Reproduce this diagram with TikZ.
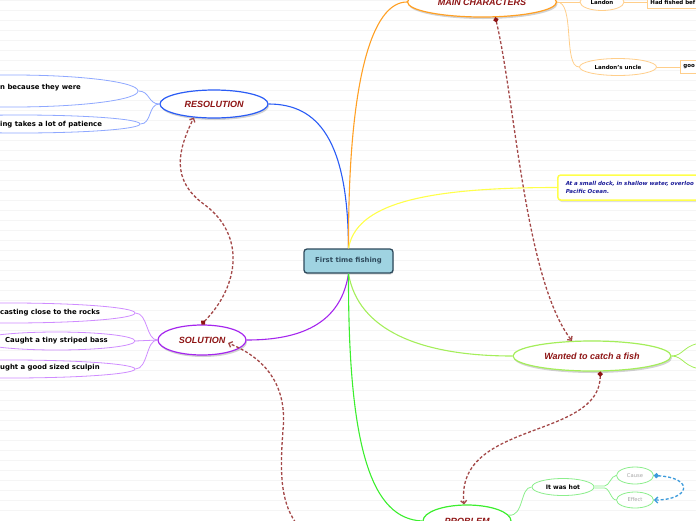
\documentclass[tikz,border=0pt]{standalone}
\usepackage{fontspec}
\setmainfont{DejaVu Sans}[ItalicFont={DejaVu Sans Oblique}, BoldItalicFont={DejaVu Sans Bold Oblique}]
\newfontfamily\headfont{Liberation Sans}
\usepackage{tikz}
\usetikzlibrary{shapes.geometric, arrows.meta, shadows}
\definecolor{hubfill}{HTML}{9FD3E1}
\definecolor{hubedge}{HTML}{2E4A5C}
\definecolor{topicred}{HTML}{8E1414}
\definecolor{relred}{HTML}{A34848}
\definecolor{resblue}{HTML}{2A5CF5}
\definecolor{reslight}{HTML}{8FA8FF}
\definecolor{charorange}{HTML}{FFA024}
\definecolor{charlight}{HTML}{FFCE8A}
\definecolor{dockyellow}{HTML}{FFFF4A}
\definecolor{docktext}{HTML}{1C1C99}
\definecolor{wantgreen}{HTML}{A4EE5A}
\definecolor{solpurple}{HTML}{A526EE}
\definecolor{sollight}{HTML}{CF8CFF}
\definecolor{probgreen}{HTML}{3CEE2E}
\definecolor{problight}{HTML}{8CEE8C}
\definecolor{relblue}{HTML}{3D9BDB}
\tikzset{
  ruleline/.style={draw=black!4, line width=0.8},
  hubbox/.style={rectangle, rounded corners=3, draw=hubedge, fill=hubfill, line width=1.3, minimum width=89, minimum height=24, text=hubedge, font=\bfseries\fontsize{6.9}{8}\selectfont, drop shadow={shadow xshift=0.5pt, shadow yshift=-1.5pt, opacity=0.3}},
  topic/.style={ellipse, draw=#1, fill=white, line width=1.2, inner sep=0pt, text=topicred, font=\headfont\bfseries\itshape\fontsize{9}{11}\selectfont, drop shadow={shadow xshift=1pt, shadow yshift=-2pt, opacity=0.35}},
  dockbox/.style={rectangle, rounded corners=3, draw=dockyellow, fill=white, line width=1.5, anchor=west, minimum height=25, text width=160, align=left, inner xsep=8, text=docktext, font=\bfseries\itshape\fontsize{5.5}{8}\selectfont, drop shadow={shadow xshift=1pt, shadow yshift=-2pt, opacity=0.25}},
  leaf/.style={ellipse, draw=#1, fill=white, line width=0.8, inner sep=0pt, font=\bfseries\fontsize{6.9}{8}\selectfont},
  leafbox/.style={rectangle, draw=#1, fill=white, line width=0.8, inner sep=3pt, anchor=west, align=left, minimum height=13, font=\bfseries\fontsize{5.5}{7}\selectfont},
  cuttext/.style={anchor=west, inner sep=0pt, font=\bfseries\fontsize{6.9}{8}\selectfont},
  branch/.style={draw=#1, line width=1.1},
  twig/.style={draw=#1, line width=0.8},
  relation/.style={draw=relred, line width=1.3, dash pattern=on 3pt off 2pt, {Circle[length=5pt, fill=topicred, color=topicred]}-{Straight Barb[length=3pt, width=6pt]}},
  bluerelation/.style={relation, draw=relblue, {Circle[length=5pt, fill=relblue, color=relblue]}-{Straight Barb[length=3pt, width=6pt]}},
}
\begin{document}
\begin{tikzpicture}[x=1pt, y=-1pt]
\useasboundingbox (0,0) rectangle (696,520);
\clip (0,0) rectangle (696,520);
% lined paper
\foreach \ry in {0.7,10.7,...,520} \draw[ruleline] (0,\ry) -- (696,\ry);

% central topic and main topics
\node[hubbox] (hub) at (348.5,261) {First time fishing};
\node[topic=resblue, minimum width=108, minimum height=28] (resolution) at (214,104) {RESOLUTION};
\node[topic=charorange, minimum width=149, minimum height=30] (mainchar) at (482,2) {MAIN CHARACTERS};
\node[dockbox] (dock) at (557,187.5) {At a small dock, in shallow water, overloo\\Pacific Ocean.};
\node[topic=wantgreen, minimum width=158, minimum height=30] (wanted) at (592,356) {Wanted to catch a fish};
\node[topic=solpurple, minimum width=88, minimum height=30] (solution) at (202,340) {SOLUTION};
\node[topic=probgreen, minimum width=88, minimum height=32] (problem) at (467,521) {PROBLEM};

% resolution leaves
\node[leaf=reslight, minimum width=250, minimum height=32] (res1) at (13,91) {};
\node[cuttext] (res1txt) at (0,88) {n because they were};
\node[leaf=reslight, minimum width=240, minimum height=18] (res2) at (20,124) {};
\node[cuttext] (res2txt) at (0,125) {ing takes a lot of patience};

% solution leaves
\node[leaf=sollight, minimum width=250, minimum height=20] (sol1) at (10,313) {};
\node[cuttext] (sol1txt) at (0,313) {casting close to the rocks};
\node[leaf=sollight, minimum width=157, minimum height=18] (sol2) at (56.5,341) {Caught a tiny striped bass};
\node[leaf=sollight, minimum width=250, minimum height=18] (sol3) at (10,369) {};
\node[cuttext] (sol3txt) at (0,368) {ught a good sized sculpin};

% characters
\node[leaf=charlight, minimum width=44, minimum height=17, font=\bfseries\fontsize{5.5}{7}\selectfont] (landon) at (602,2) {Landon};
\node[leafbox=charlight, text width=70] (hadfished) at (647,2) {Had fished bef};
\node[leaf=charlight, minimum width=77, minimum height=17, font=\bfseries\fontsize{5.5}{7}\selectfont] (uncle) at (618,67) {Landon's uncle};
\node[leafbox=charlight, text width=30] (goo) at (680,67) {goo};

% problem leaves
\node[leaf=problight, minimum width=62, minimum height=17, font=\bfseries\fontsize{6.1}{7}\selectfont] (hot) at (563,487) {It was hot};
\node[leaf=problight, minimum width=37, minimum height=17, text=black!35, font=\fontsize{5.2}{6}\selectfont] (cause) at (635,475.5) {Cause};
\node[leaf=problight, minimum width=37, minimum height=16, text=black!35, font=\fontsize{5.2}{6}\selectfont] (effect) at (635,500) {Effect};

\coordinate (wantup) at (705,343);
\coordinate (wantdown) at (705,369);
\coordinate (probtail) at (298,526);

% branches
\draw[branch=resblue] (hub.north) .. controls (348,140) and (318,104) .. (resolution.east);
\draw[branch=charorange] (hub.north) .. controls (348,80) and (372,2) .. (mainchar.west);
\draw[branch=dockyellow] (hub.north) .. controls (356,205) and (420,187.5) .. (dock.west);
\draw[branch=wantgreen] (hub.south) .. controls (358,330) and (420,356) .. (wanted.west);
\draw[branch=solpurple] (hub.south) .. controls (340,330) and (290,340) .. (solution.east);
\draw[branch=probgreen] (hub.south) .. controls (348,450) and (372,519) .. (problem.west);

\draw[twig=reslight] (resolution.west) .. controls (148,104) and (150,91) .. (res1.east);
\draw[twig=reslight] (resolution.west) .. controls (148,104) and (152,124) .. (res2.east);
\draw[twig=sollight] (solution.west) .. controls (146,340) and (148,313) .. (sol1.east);
\draw[twig=sollight] (solution.west) -- (sol2.east);
\draw[twig=sollight] (solution.west) .. controls (146,340) and (148,369) .. (sol3.east);
\draw[twig=charlight] (mainchar.east) -- (landon.west);
\draw[twig=charlight] (mainchar.east) .. controls (575,2) and (563,67) .. (uncle.west);
\draw[twig=charlight] (landon.east) -- (hadfished.west);
\draw[twig=charlight] (uncle.east) -- (goo.west);
\draw[twig=wantgreen] (wanted.east) .. controls (684,356) and (684,343) .. (wantup);
\draw[twig=wantgreen] (wanted.east) .. controls (684,356) and (684,369) .. (wantdown);
\draw[twig=problight] (problem.8) .. controls (524,517) and (520,487) .. (hot.west);
\draw[twig=problight] ([yshift=1pt]hot.east) -- ++(10,0) .. controls +(5,0) and +(-5,0) .. (cause.west);
\draw[twig=problight] ([yshift=-1pt]hot.east) -- ++(10,0) .. controls +(5,0) and +(-5,0) .. (effect.west);

% relationships
\draw[relation] (mainchar.-49) .. controls (515,100) and (525,280) .. (wanted.143);
\draw[relation] (wanted.-62) .. controls (600,440) and (455,420) .. (problem.100);
\draw[relation] (solution.92) .. controls (240,285) and (245,235) .. (205,205) .. controls (170,180) and (178,150) .. (resolution.-146);
\draw[relation] (probtail) .. controls (280,500) and (280,470) .. (283,430) .. controls (287,390) and (270,360) .. ([xshift=26pt,yshift=-3pt]solution.center);
\draw[bluerelation] (cause.east) .. controls (695,478) and (690,500) .. (effect.east);
\end{tikzpicture}
\end{document}
